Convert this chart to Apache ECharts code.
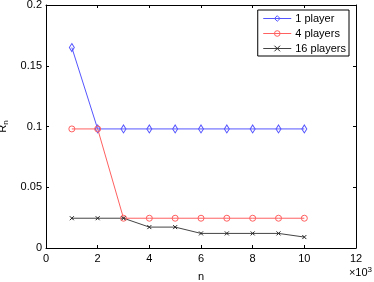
<!DOCTYPE html>
<html><head><meta charset="utf-8">
<script src="https://cdn.jsdelivr.net/npm/echarts@6/dist/echarts.min.js"></script>
<style>html,body{margin:0;padding:0;background:#fff}#c{width:374px;height:282px}</style>
</head><body><div id="c"></div>
<script>
var nValues = [1, 2, 3, 4, 5, 6, 7, 8, 9, 10]; // x 10^3
var seriesNames = ['1 player', '4 players', '16 players'];
var onePlayer = [0.165, 0.098, 0.098, 0.098, 0.098, 0.098, 0.098, 0.098, 0.098, 0.098];
var fourPlayers = [0.098, 0.098, 0.0245, 0.0245, 0.0245, 0.0245, 0.0245, 0.0245, 0.0245, 0.0245];
var sixteenPlayers = [0.0245, 0.0245, 0.0245, 0.0172, 0.0172, 0.012, 0.012, 0.012, 0.012, 0.009];
var xTicks = [0, 2, 4, 6, 8, 10, 12];
var yTicks = [0, 0.05, 0.1, 0.15, 0.2];

function pairs(ys){ return nValues.map(function(x,i){ return [x, ys[i]]; }); }
var font = 'Liberation Sans, Arial, Helvetica, sans-serif';
var axisCommon = {
  axisLine:{show:true,onZero:false,lineStyle:{color:'#000',width:1}},
  axisTick:{show:true,inside:true,length:3,lineStyle:{color:'#000'}},
  splitLine:{show:false}
};
var diamondPath = 'path://M5,0L10,8L5,16L0,8Z';
var circlePath = 'path://M10,5A5,5,0,1,1,0,5A5,5,0,1,1,10,5Z';
var crossPath = 'path://M0,0L10,10M10,0L0,10';
var chart = echarts.init(document.getElementById('c'));
chart.setOption({
  animation:false,
  backgroundColor:'#fff',
  textStyle:{fontFamily:font},
  grid:{left:46,right:18,top:5,bottom:34,containLabel:false,outerBoundsMode:'none'},
  legend:{
    right:25, top:10, orient:'vertical',
    backgroundColor:'#fff', borderColor:'#000', borderWidth:1,
    padding:[3,3,2,5], itemGap:4, itemWidth:28, itemHeight:7,
    lineStyle:{width:1}, itemStyle:{borderWidth:1},
    textStyle:{fontSize:11,color:'#000',fontFamily:font,padding:[0,0,0,-1]},
    data:seriesNames
  },
  xAxis:[
    Object.assign({type:'value',min:xTicks[0],max:xTicks[xTicks.length-1],interval:2,position:'bottom',
      name:'n',nameLocation:'middle',nameGap:23,nameTextStyle:{fontSize:11,color:'#000'},
      axisLabel:{fontSize:11,color:'#000',margin:5}},axisCommon),
    Object.assign({type:'value',min:xTicks[0],max:xTicks[xTicks.length-1],interval:2,position:'top',
      axisLabel:{show:false}},axisCommon)
  ],
  yAxis:[
    Object.assign({type:'value',min:yTicks[0],max:yTicks[yTicks.length-1],interval:0.05,position:'left',
      name:'R{s|n}',nameLocation:'middle',nameGap:29,nameRotate:90,
      nameTextStyle:{fontSize:11,color:'#000',rich:{s:{fontSize:8,verticalAlign:'bottom',padding:[6,0,0,0]}}},
      axisLabel:{fontSize:11,color:'#000',margin:4}},axisCommon),
    Object.assign({type:'value',min:yTicks[0],max:yTicks[yTicks.length-1],interval:0.05,position:'right',
      axisLabel:{show:false}},axisCommon)
  ],
  graphic:[{type:'text',right:2,bottom:4,style:{text:'×10{s|3}',fontSize:11,fill:'#000',fontFamily:font,
    rich:{s:{fontSize:8,verticalAlign:'top',padding:[0,0,6,0]}}}}],
  series:[
    {name:seriesNames[0],type:'line',data:pairs(onePlayer),symbol:diamondPath,symbolSize:[5,8],
      lineStyle:{color:'#5555ff',width:1},itemStyle:{color:'none',borderColor:'#5555ff',borderWidth:1}},
    {name:seriesNames[1],type:'line',data:pairs(fourPlayers),symbol:circlePath,symbolSize:6,
      lineStyle:{color:'#ff6060',width:1},itemStyle:{color:'none',borderColor:'#ff6060',borderWidth:1}},
    {name:seriesNames[2],type:'line',data:pairs(sixteenPlayers),symbol:crossPath,symbolSize:4,
      lineStyle:{color:'#444',width:1},itemStyle:{color:'none',borderColor:'#222',borderWidth:1}}
  ]
});
</script></body></html>
